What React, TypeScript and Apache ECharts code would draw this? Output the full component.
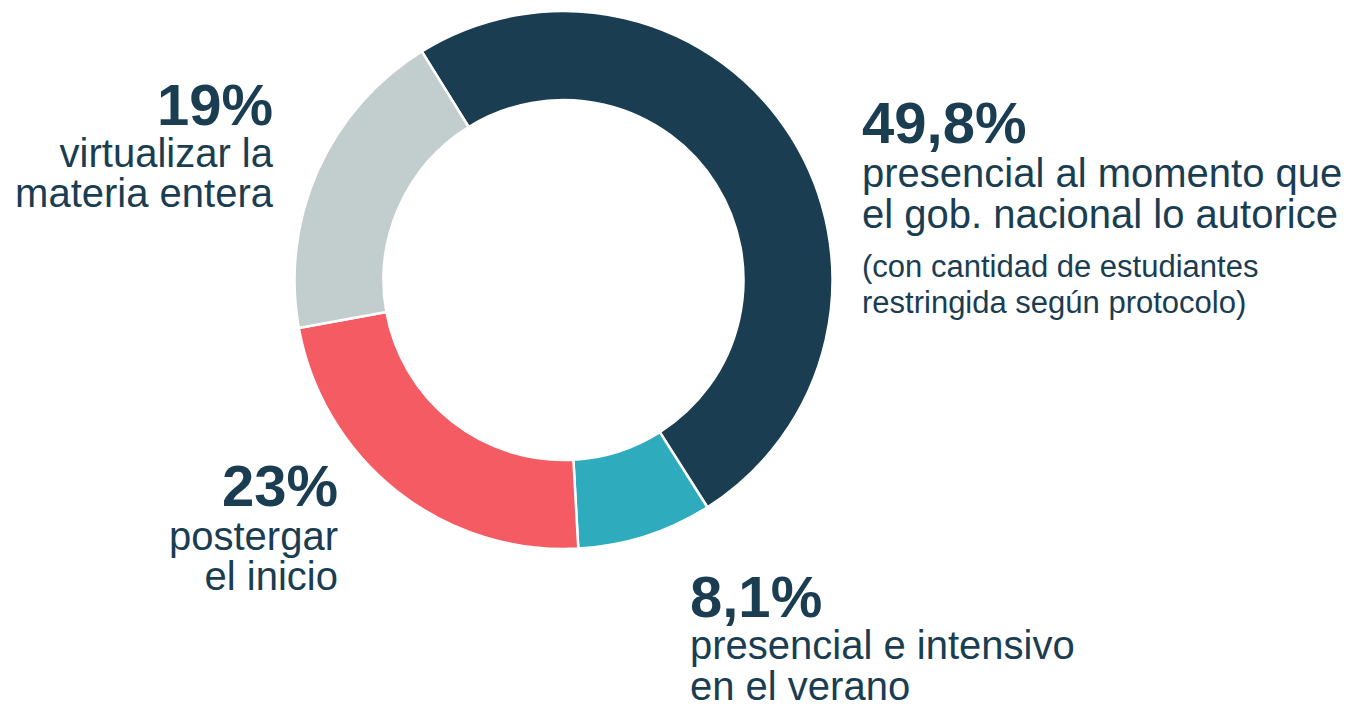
import { useEffect, useRef } from "react";
import * as echarts from "echarts";

const categories = [
  "presencial al momento que el gob. nacional lo autorice",
  "presencial e intensivo en el verano",
  "postergar el inicio",
  "virtualizar la materia entera",
];
const values = [49.8, 8.1, 23, 19];
const percentLabels = ["49,8%", "8,1%", "23%", "19%"];
const descriptionLines = [
  ["presencial al momento que", "el gob. nacional lo autorice"],
  ["presencial e intensivo", "en el verano"],
  ["postergar", "el inicio"],
  ["virtualizar la", "materia entera"],
];
const noteLines = [
  ["(con cantidad de estudiantes", "restringida según protocolo)"],
  [],
  [],
  [],
];
const colors = ["#1a3d52", "#2eabbd", "#f45b63", "#c2cecd"];

const TEXT_COLOR = "#1a3d52";
const FONT = "'Liberation Sans', Arial, sans-serif";
const SIZE_PCT = 58;
const SIZE_DESC = 40;
const SIZE_NOTE = 31;
const LH_PCT = 48;
const LH_DESC = 36;
const LH_NOTE = 30;

// label layout: anchor x, alignment, and baselines of successive lines
const labelLayouts = [
  { x: 862, align: "left", baselines: [143, 187, 228, 277, 313] },
  { x: 690, align: "left", baselines: [617, 659, 700] },
  { x: 338, align: "right", baselines: [506, 550, 590] },
  { x: 273, align: "right", baselines: [125, 167, 207] },
];

const MID = 0.3465;

function buildLabels() {
  const els: any[] = [];
  values.forEach((_, i) => {
    const lay = labelLayouts[i];
    const lines: { text: string; size: number; weight: string; lh: number }[] = [
      { text: percentLabels[i], size: SIZE_PCT, weight: "bold", lh: LH_PCT },
      ...descriptionLines[i].map((t) => ({ text: t, size: SIZE_DESC, weight: "normal", lh: LH_DESC })),
      ...noteLines[i].map((t) => ({ text: t, size: SIZE_NOTE, weight: "normal", lh: LH_NOTE })),
    ];
    lines.forEach((ln, j) => {
      els.push({
        type: "text",
        x: lay.x,
        y: lay.baselines[j] - ln.size * MID,
        silent: true,
        style: {
          text: ln.text,
          fill: TEXT_COLOR,
          font: `${ln.weight} ${ln.size}px ${FONT}`,
          lineHeight: ln.lh,
          align: lay.align,
          verticalAlign: "middle",
        },
      });
    });
  });
  return els;
}

export default function App() {
  const ref = useRef<HTMLDivElement>(null);
  useEffect(() => {
    if (!ref.current) return;
    const chart = echarts.init(ref.current, undefined, { renderer: "svg" });
    chart.setOption({
      animation: false,
      backgroundColor: "#ffffff",
      series: [
        {
          type: "pie",
          center: [563.5, 280],
          radius: [180, 269],
          startAngle: 121.8,
          clockwise: true,
          avoidLabelOverlap: false,
          label: { show: false },
          labelLine: { show: false },
          emphasis: { disabled: true },
          itemStyle: { borderColor: "#ffffff", borderWidth: 2.5 },
          data: categories.map((name, i) => ({
            name,
            value: values[i],
            itemStyle: { color: colors[i] },
          })),
        },
      ],
      graphic: buildLabels(),
    });
    return () => chart.dispose();
  }, []);
  return (
    <div
      ref={ref}
      style={{ position: "absolute", left: 0, top: 0, width: 1349, height: 711 }}
    />
  );
}
